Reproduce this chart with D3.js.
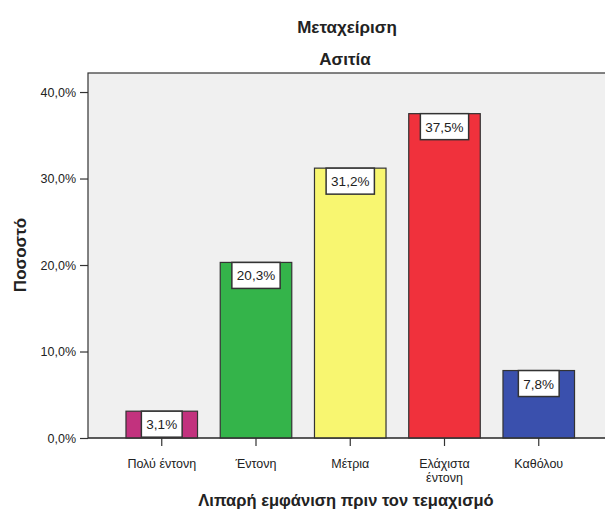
<!DOCTYPE html>
<html><head><meta charset="utf-8">
<script src="https://cdn.jsdelivr.net/npm/d3@7"></script>
<style>body{margin:0;background:#fff;}svg{display:block;}</style>
</head><body>
<script>
const categories = [["Πολύ έντονη"], ["Έντονη"], ["Μέτρια"], ["Ελάχιστα","έντονη"], ["Καθόλου"]];
const values = [3.1, 20.3, 31.2, 37.5, 7.8];
const colors = ["#c2327e", "#34b44a", "#f8f670", "#f0313c", "#3a50ad"];
const yTicks = [0, 10, 20, 30, 40];
const title1 = "Μεταχείριση";
const title2 = "Ασιτία";
const yTitle = "Ποσοστό";
const xTitle = "Λιπαρή εμφάνιση πριν τον τεμαχισμό";

(function () {
const W = 605, H = 516;
const svg = d3.select("body").append("svg").attr("width", W).attr("height", H);
const font = "Liberation Sans, Arial, sans-serif";

const pLeft = 88, pTop = 73, pBottom = 438, pRight = 612.5;
const x = d3.scaleBand().domain(d3.range(values.length)).range([pLeft, pRight]).paddingInner(0.241).paddingOuter(0.403);
const y = d3.scaleLinear().domain([0, 42.2]).range([pBottom, pTop]);

svg.append("rect").attr("x", pLeft).attr("y", pTop).attr("width", W - pLeft + 5).attr("height", pBottom - pTop)
  .attr("fill", "#f0f0f0").attr("stroke", "#333").attr("stroke-width", 1.2);

svg.selectAll("rect.bar").data(values).join("rect").attr("class", "bar")
  .attr("x", (d, i) => x(i)).attr("y", d => y(d))
  .attr("width", x.bandwidth()).attr("height", d => pBottom - y(d))
  .attr("fill", (d, i) => colors[i]).attr("stroke", "#333").attr("stroke-width", 1.2);

const yAxis = d3.axisLeft(y).tickValues(yTicks).tickSize(8).tickPadding(4)
  .tickFormat(d => d3.format(".1f")(d).replace(".", ",") + "%");
const ya = svg.append("g").attr("transform", `translate(${pLeft},0)`).call(yAxis);
ya.select(".domain").remove();
ya.selectAll("line").attr("stroke", "#333").attr("stroke-width", 1.2);
ya.selectAll("text").attr("font-family", font).attr("font-size", 12.5).attr("fill", "#222");

const xAxis = d3.axisBottom(x).tickSize(8).tickFormat("");
const xa = svg.append("g").attr("transform", `translate(0,${pBottom})`).call(xAxis);
xa.select(".domain").remove();
xa.selectAll("line").attr("stroke", "#333").attr("stroke-width", 1.2);
svg.append("line").attr("x1", pLeft).attr("x2", W).attr("y1", pBottom).attr("y2", pBottom).attr("stroke", "#333").attr("stroke-width", 1.2);

categories.forEach((lines, i) => {
  const cx = x(i) + x.bandwidth() / 2;
  const t = svg.append("text").attr("x", cx).attr("y", 468)
    .attr("text-anchor", "middle").attr("font-family", font).attr("font-size", 12.5).attr("fill", "#222");
  lines.forEach((l, j) => t.append("tspan").attr("x", cx).attr("dy", j ? 14 : 0).text(l));
});

values.forEach((v, i) => {
  const cx = x(i) + x.bandwidth() / 2;
  const g = svg.append("g");
  const txt = g.append("text").attr("x", cx).attr("y", y(v) + 18).attr("text-anchor", "middle")
    .attr("font-family", font).attr("font-size", 13.5).attr("fill", "#222")
    .text(d3.format(".1f")(v).replace(".", ",") + "%");
  const bb = txt.node().getBBox();
  const bh = Math.min(26, pBottom - y(v));
  g.insert("rect", "text").attr("x", cx - bb.width / 2 - 5).attr("y", y(v))
    .attr("width", bb.width + 10).attr("height", bh)
    .attr("fill", "#fff").attr("stroke", "#333").attr("stroke-width", 1.5);
});

svg.append("text").attr("x", 347).attr("y", 33).attr("text-anchor", "middle")
  .attr("font-family", font).attr("font-size", 17).attr("font-weight", "bold").attr("fill", "#222").text(title1);
svg.append("text").attr("x", 345).attr("y", 65).attr("text-anchor", "middle")
  .attr("font-family", font).attr("font-size", 17).attr("font-weight", "bold").attr("fill", "#222").text(title2);
svg.append("text").attr("transform", "translate(26,255) rotate(-90)").attr("text-anchor", "middle")
  .attr("font-family", font).attr("font-size", 17).attr("font-weight", "bold").attr("fill", "#222").text(yTitle);
svg.append("text").attr("x", 346).attr("y", 506).attr("text-anchor", "middle")
  .attr("font-family", font).attr("font-size", 16.5).attr("font-weight", "bold").attr("fill", "#222").text(xTitle);
})();
</script>
</body></html>
